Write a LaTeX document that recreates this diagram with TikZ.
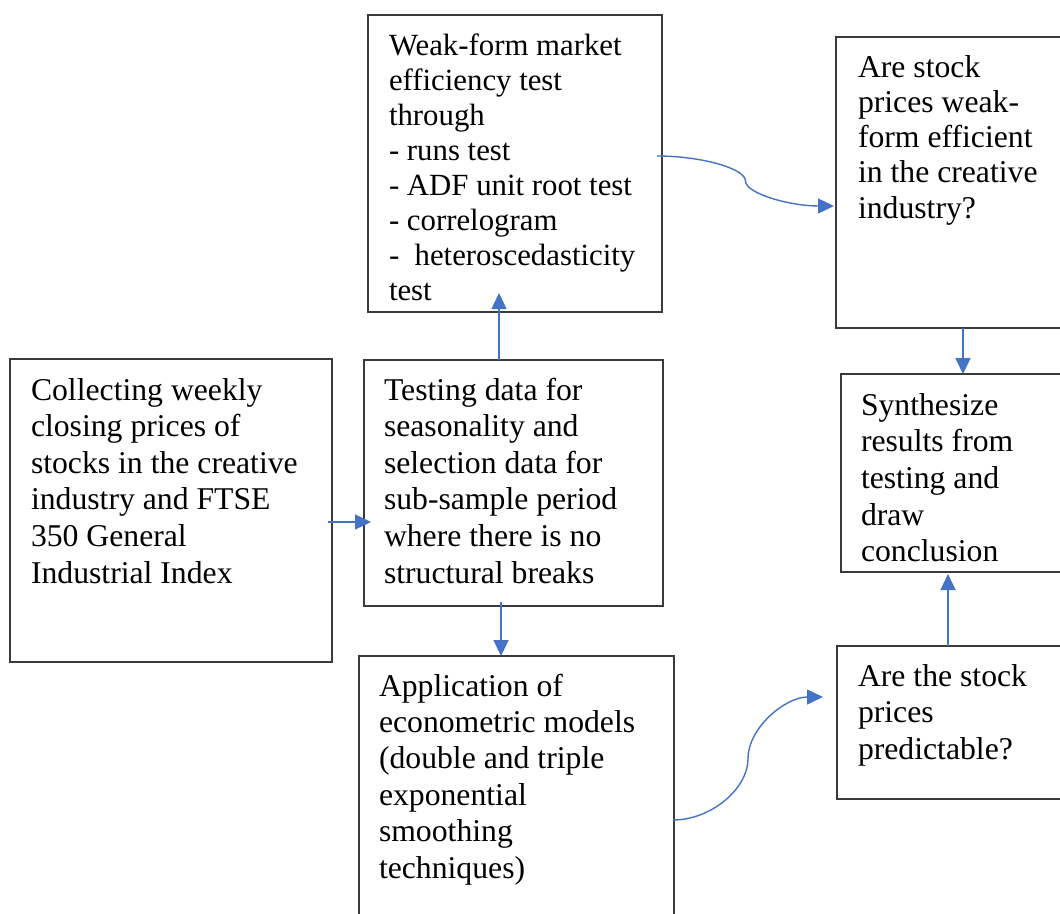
\documentclass[tikz,border=0pt]{standalone}
\usepackage{fontspec}
\setmainfont{Liberation Serif}
\usetikzlibrary{arrows.meta}
\definecolor{connblue}{HTML}{4472C4}
\definecolor{edgegray}{HTML}{3A3A3A}
\newcommand{\boxtext}[3][31.7pt]{\parbox[t]{330pt}{\raggedright\fontsize{#1}{#2}\selectfont #3}}
\begin{document}
\begin{tikzpicture}[x=1pt,y=-1pt,
  box/.style={draw=edgegray,line width=1.5pt,inner sep=0pt,outer sep=0pt,anchor=north west},
  txt/.style={inner sep=0pt,outer sep=0pt,anchor=base west},
  link/.style={draw=connblue,line width=1.4pt,-{Triangle[length=16pt,width=15pt]}}]
\useasboundingbox (0,0) rectangle (1060,913);
\clip (0,0) rectangle (1060,913);
\fill[white] (0,0) rectangle (1060,913);

% boxes
\node[box,minimum width=294pt,minimum height=297pt] (A) at (368,15) {};
\node[box,minimum width=240pt,minimum height=291pt] (B) at (836,37) {};
\node[box,minimum width=322pt,minimum height=303pt] (C) at (10,359) {};
\node[box,minimum width=299pt,minimum height=246pt] (D) at (364,360) {};
\node[box,minimum width=315pt,minimum height=270pt] (E) at (359,656) {};
\node[box,minimum width=235pt,minimum height=198pt] (F) at (841,374) {};
\node[box,minimum width=240pt,minimum height=153pt] (G) at (837,646) {};

% texts
\node[txt] (tA) at (389,55) {\boxtext[30.8pt]{35pt}{Weak-form market\\efficiency test\\through\\- runs test\\- ADF unit root test\\- correlogram\\-\ \ heteroscedasticity\\test}};
\node[txt] (tB) at (858,77) {\boxtext{35.3pt}{Are stock\\prices weak-\\form efficient\\in the creative\\industry?}};
\node[txt] (tC) at (31,400) {\boxtext{36.6pt}{Collecting weekly\\closing prices of\\stocks in the creative\\industry and FTSE\\350 General\\Industrial Index}};
\node[txt] (tD) at (384,400) {\boxtext{36.6pt}{Testing data for\\seasonality and\\selection data for\\sub-sample period\\where there is no\\structural breaks}};
\node[txt] (tE) at (379,696) {\boxtext{36.4pt}{Application of\\econometric models\\(double and triple\\exponential\\smoothing\\techniques)}};
\node[txt] (tF) at (861,415) {\boxtext{36.7pt}{Synthesize\\results from\\testing and\\draw\\conclusion}};
\node[txt] (tG) at (858,686) {\boxtext{36.7pt}{Are the stock\\prices\\predictable?}};

% straight connectors
\draw[link] ([xshift=-4pt,yshift=-11.5pt]C.east) -- ([xshift=7pt,yshift=-39pt]D.west);
\draw[link] ([xshift=-14.5pt]D.north) -- ([xshift=-16pt,yshift=19pt]A.south);
\draw[link] ([xshift=-12.5pt,yshift=4pt]D.south) -- ([xshift=-15.5pt]E.north);
\draw[link] ([xshift=127pt]B.south west) -- ([xshift=122pt]F.north west);
\draw[link] ([xshift=111pt]G.north west) -- ([xshift=107pt,yshift=-2pt]F.south west);

% curved connectors
\coordinate (s1) at (657,156);
\coordinate (e1) at (834,206);
\draw[link] (s1) .. controls (701.25,156) and (745.5,168.5) .. (745.5,181)
  .. controls (745.5,193.5) and (789.75,206) .. (e1);
\coordinate (s2) at (673,820);
\coordinate (e2) at (823,697);
\draw[link] (s2) .. controls (710.5,820) and (748,789.25) .. (748,758.5)
  .. controls (748,727.75) and (785.5,697) .. (e2);
\end{tikzpicture}
\end{document}
